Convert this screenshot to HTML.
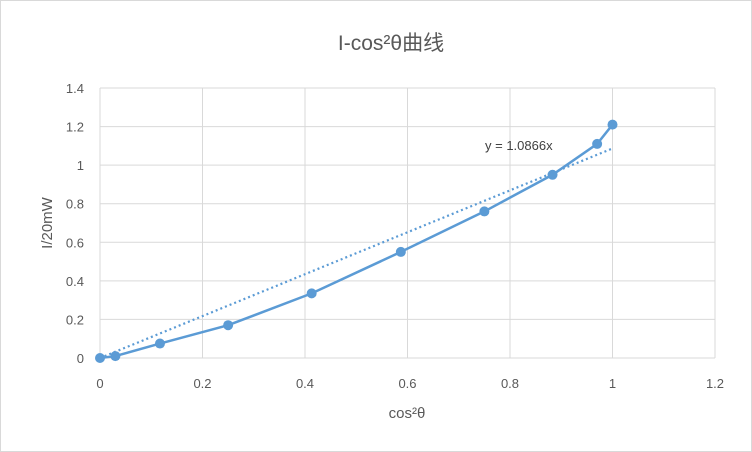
<!DOCTYPE html>
<html><head><meta charset="utf-8"><style>
html,body{margin:0;padding:0;background:#fff;}
svg{display:block;font-family:"Liberation Sans","Noto Sans CJK SC",sans-serif;}
</style></head><body>
<svg id="chart" width="752" height="452" viewBox="0 0 752 452">
<rect x="0.5" y="0.5" width="751" height="451" fill="#fff" stroke="#d9d9d9"/>
<text x="391" y="50" text-anchor="middle" font-size="21" fill="#595959">I-cos²θ曲线</text>
<g id="grid"></g><g id="ticks"></g>
<text x="407" y="418" text-anchor="middle" font-size="15" fill="#595959">cos²θ</text>
<text transform="translate(52,223) rotate(-90)" text-anchor="middle" font-size="15" fill="#595959">I/20mW</text>
<g id="marks"></g>
<text x="485" y="150" font-size="13" fill="#404040">y = 1.0866x</text>
</svg>
<script>
const xVals=[0,0.03,0.117,0.25,0.413,0.587,0.75,0.883,0.97,1];
const yVals=[0,0.01,0.075,0.17,0.335,0.55,0.76,0.95,1.11,1.21];
const xTicks=[0,0.2,0.4,0.6,0.8,1,1.2];
const yTicks=[0,0.2,0.4,0.6,0.8,1,1.2,1.4];
const slope=[1.0866];
const NS="http://www.w3.org/2000/svg";
const X=v=>100+v*(615/1.2), Y=v=>358-v*(270/1.4);
function mk(t,a,p){const e=document.createElementNS(NS,t);for(const k in a)e.setAttribute(k,a[k]);p.appendChild(e);return e;}
const g=document.getElementById('grid'),tk=document.getElementById('ticks'),m=document.getElementById('marks');
xTicks.forEach(v=>{const l=mk('line',{x1:X(v),x2:X(v),y1:Y(0),y2:Y(1.4),stroke:'#d9d9d9'},g);


const t=mk('text',{x:X(v),y:388,'text-anchor':'middle','font-size':13,fill:'#595959'},tk);t.textContent=String(v);

});
yTicks.forEach(v=>{const l=mk('line',{x1:X(0),x2:X(1.2),y1:Y(v),y2:Y(v),stroke:'#d9d9d9'},g);


const t=mk('text',{x:84,y:Y(v)+5,'text-anchor':'end','font-size':13,fill:'#595959'},tk);t.textContent=String(v);

});
const tr=mk('line',{x1:X(0),y1:Y(0),x2:X(1),y2:Y(slope[0]),stroke:'#5b9bd5','stroke-width':2.2,'stroke-dasharray':'2 3'},m);


const pl=mk('polyline',{points:xVals.map((x,i)=>X(x)+','+Y(yVals[i])).join(' '),fill:'none',stroke:'#5b9bd5','stroke-width':2.5},m);


xVals.forEach((x,i)=>{const c=mk('circle',{cx:X(x),cy:Y(yVals[i]),r:5,fill:'#5b9bd5'},m);

});
</script>
</body></html>
